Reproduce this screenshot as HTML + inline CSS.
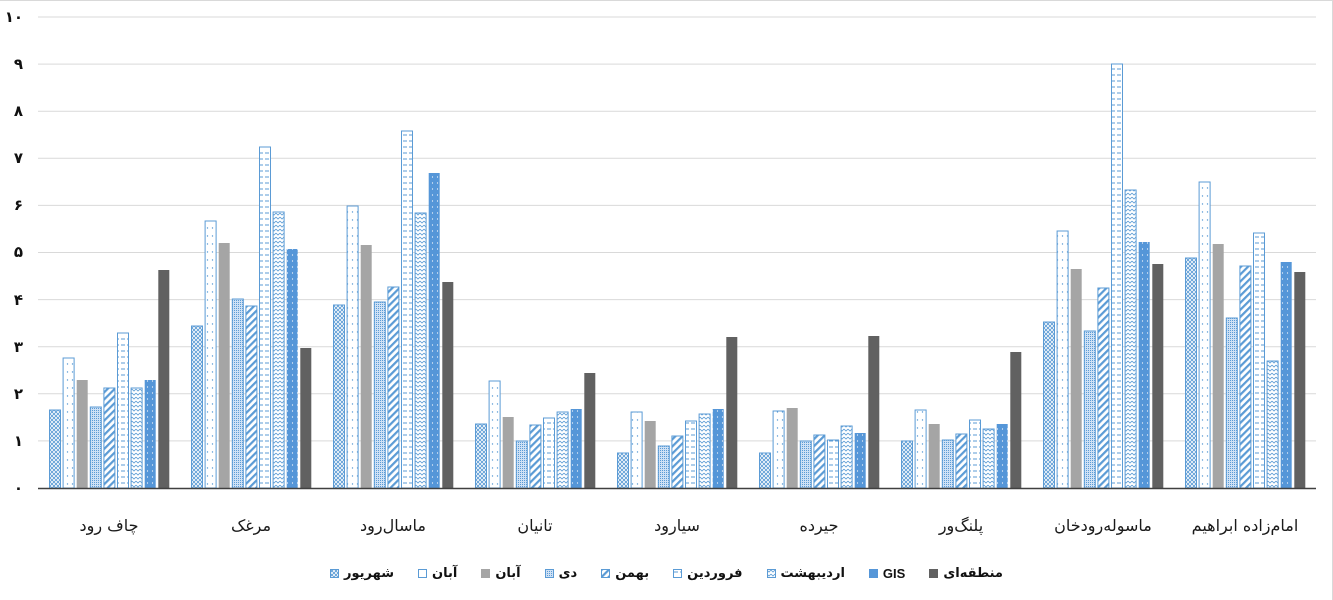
<!DOCTYPE html>
<html>
<head>
<meta charset="utf-8">
<style>
html,body{margin:0;padding:0;background:#fff;}
#wrap{position:relative;width:1333px;height:600px;overflow:hidden;background:#fff;}
svg{position:absolute;left:0;top:0;}
#legend{position:absolute;left:0;top:566px;width:1333px;display:flex;justify-content:center;align-items:center;gap:24px;direction:ltr;
font-family:"DejaVu Sans","Liberation Sans",sans-serif;font-weight:bold;font-size:13px;color:#111;}
.li{display:flex;align-items:center;white-space:nowrap;}
.ic{width:9px;height:9px;margin-right:5px;box-sizing:border-box;}
</style>
</head>
<body>
<div id="wrap">
<svg width="1333" height="600" viewBox="0 0 1333 600" xmlns="http://www.w3.org/2000/svg">
<defs>
<pattern id="p1" width="4" height="4" patternUnits="userSpaceOnUse"><rect width="4" height="4" fill="#fff"/><path d="M0,0L4,4M4,0L0,4" stroke="#5b9bd5" stroke-width="0.9"/></pattern>
<pattern id="p2" width="5" height="8" patternUnits="userSpaceOnUse"><rect width="5" height="8" fill="#fff"/><circle cx="2.5" cy="4" r="0.7" fill="#5b9bd5"/></pattern>
<pattern id="p4" width="2" height="2" patternUnits="userSpaceOnUse"><rect width="2" height="2" fill="#cfe1f5"/><rect width="1" height="1" fill="#5b9bd5"/></pattern>
<pattern id="p5" width="5" height="5" patternUnits="userSpaceOnUse" patternTransform="rotate(45)"><rect width="5" height="5" fill="#fff"/><rect width="2.2" height="5" fill="#5b9bd5"/></pattern>
<pattern id="p6" width="6" height="6" patternUnits="userSpaceOnUse"><rect width="6" height="6" fill="#fff"/><rect x="1" y="2.5" width="4" height="1" fill="#5b9bd5"/></pattern>
<pattern id="p7" width="4" height="4" patternUnits="userSpaceOnUse"><rect width="4" height="4" fill="#fff"/><polyline points="0,1 2,3 4,1" fill="none" stroke="#5b9bd5" stroke-width="0.8"/></pattern>
<pattern id="p8" width="5" height="6" patternUnits="userSpaceOnUse"><rect width="5" height="6" fill="#5596d8"/><circle cx="2.5" cy="3" r="0.6" fill="#fff"/></pattern>
</defs>
<!-- border -->
<line x1="0" y1="0.5" x2="1333" y2="0.5" stroke="#d9d9d9"/>
<line x1="1332.5" y1="0" x2="1332.5" y2="600" stroke="#d9d9d9"/>
<!-- gridlines -->
<g stroke="#d9d9d9" stroke-width="1">
<line x1="38" y1="17" x2="1316" y2="17"/>
<line x1="38" y1="64.1" x2="1316" y2="64.1"/>
<line x1="38" y1="111.2" x2="1316" y2="111.2"/>
<line x1="38" y1="158.3" x2="1316" y2="158.3"/>
<line x1="38" y1="205.4" x2="1316" y2="205.4"/>
<line x1="38" y1="252.5" x2="1316" y2="252.5"/>
<line x1="38" y1="299.6" x2="1316" y2="299.6"/>
<line x1="38" y1="346.7" x2="1316" y2="346.7"/>
<line x1="38" y1="393.8" x2="1316" y2="393.8"/>
<line x1="38" y1="440.9" x2="1316" y2="440.9"/>
</g>
<!-- y labels -->
<g font-family="DejaVu Sans, Liberation Sans, sans-serif" font-size="15" font-weight="bold" fill="#111" text-anchor="end">
<text x="23" y="22">۱۰</text>
<text x="23" y="69">۹</text>
<text x="23" y="116">۸</text>
<text x="23" y="163">۷</text>
<text x="23" y="210">۶</text>
<text x="23" y="257">۵</text>
<text x="23" y="305">۴</text>
<text x="23" y="352">۳</text>
<text x="23" y="399">۲</text>
<text x="23" y="446">۱</text>
<text x="23" y="493">۰</text>
</g>
<!-- series 1 شهریور -->
<g fill="url(#p1)" stroke="#5b9bd5" stroke-width="1">
<rect x="49.5" y="410" width="11" height="78"/>
<rect x="191.5" y="326" width="11" height="162"/>
<rect x="333.5" y="305" width="11" height="183"/>
<rect x="475.5" y="424" width="11" height="64"/>
<rect x="617.5" y="453" width="11" height="35"/>
<rect x="759.5" y="453" width="11" height="35"/>
<rect x="901.5" y="441" width="11" height="47"/>
<rect x="1043.5" y="322" width="11" height="166"/>
<rect x="1185.5" y="258" width="11" height="230"/>
</g>
<!-- series 2 آبان -->
<g fill="url(#p2)" stroke="#5b9bd5" stroke-width="1">
<rect x="63.1" y="358" width="11" height="130"/>
<rect x="205.1" y="221" width="11" height="267"/>
<rect x="347.1" y="206" width="11" height="282"/>
<rect x="489.1" y="381" width="11" height="107"/>
<rect x="631.1" y="412" width="11" height="76"/>
<rect x="773.1" y="411" width="11" height="77"/>
<rect x="915.1" y="410" width="11" height="78"/>
<rect x="1057.1" y="231" width="11" height="257"/>
<rect x="1199.1" y="182" width="11" height="306"/>
</g>
<!-- series 3 آبان gray -->
<g fill="#a5a5a5">
<rect x="76.7" y="380" width="11" height="108"/>
<rect x="218.7" y="243" width="11" height="245"/>
<rect x="360.7" y="245" width="11" height="243"/>
<rect x="502.7" y="417" width="11" height="71"/>
<rect x="644.7" y="421" width="11" height="67"/>
<rect x="786.7" y="408" width="11" height="80"/>
<rect x="928.7" y="424" width="11" height="64"/>
<rect x="1070.7" y="269" width="11" height="219"/>
<rect x="1212.7" y="244" width="11" height="244"/>
</g>
<!-- series 4 دی -->
<g fill="url(#p4)" stroke="#5b9bd5" stroke-width="1">
<rect x="90.3" y="407" width="11" height="81"/>
<rect x="232.3" y="299" width="11" height="189"/>
<rect x="374.3" y="302" width="11" height="186"/>
<rect x="516.3" y="441" width="11" height="47"/>
<rect x="658.3" y="446" width="11" height="42"/>
<rect x="800.3" y="441" width="11" height="47"/>
<rect x="942.3" y="440" width="11" height="48"/>
<rect x="1084.3" y="331" width="11" height="157"/>
<rect x="1226.3" y="318" width="11" height="170"/>
</g>
<!-- series 5 بهمن -->
<g fill="url(#p5)" stroke="#5b9bd5" stroke-width="1">
<rect x="103.9" y="388" width="11" height="100"/>
<rect x="245.9" y="306" width="11" height="182"/>
<rect x="387.9" y="287" width="11" height="201"/>
<rect x="529.9" y="425" width="11" height="63"/>
<rect x="671.9" y="436" width="11" height="52"/>
<rect x="813.9" y="435" width="11" height="53"/>
<rect x="955.9" y="434" width="11" height="54"/>
<rect x="1097.9" y="288" width="11" height="200"/>
<rect x="1239.9" y="266" width="11" height="222"/>
</g>
<!-- series 6 فروردین -->
<g fill="url(#p6)" stroke="#5b9bd5" stroke-width="1">
<rect x="117.5" y="333" width="11" height="155"/>
<rect x="259.5" y="147" width="11" height="341"/>
<rect x="401.5" y="131" width="11" height="357"/>
<rect x="543.5" y="418" width="11" height="70"/>
<rect x="685.5" y="421" width="11" height="67"/>
<rect x="827.5" y="440" width="11" height="48"/>
<rect x="969.5" y="420" width="11" height="68"/>
<rect x="1111.5" y="64" width="11" height="424"/>
<rect x="1253.5" y="233" width="11" height="255"/>
</g>
<!-- series 7 اردیبهشت -->
<g fill="url(#p7)" stroke="#5b9bd5" stroke-width="1">
<rect x="131.1" y="388" width="11" height="100"/>
<rect x="273.1" y="212" width="11" height="276"/>
<rect x="415.1" y="213" width="11" height="275"/>
<rect x="557.1" y="412" width="11" height="76"/>
<rect x="699.1" y="414" width="11" height="74"/>
<rect x="841.1" y="426" width="11" height="62"/>
<rect x="983.1" y="429" width="11" height="59"/>
<rect x="1125.1" y="190" width="11" height="298"/>
<rect x="1267.1" y="361" width="11" height="127"/>
</g>
<!-- series 8 GIS -->
<g fill="url(#p8)">
<rect x="144.7" y="380" width="11" height="108"/>
<rect x="286.7" y="249" width="11" height="239"/>
<rect x="428.7" y="173" width="11" height="315"/>
<rect x="570.7" y="409" width="11" height="79"/>
<rect x="712.7" y="409" width="11" height="79"/>
<rect x="854.7" y="433" width="11" height="55"/>
<rect x="996.7" y="424" width="11" height="64"/>
<rect x="1138.7" y="242" width="11" height="246"/>
<rect x="1280.7" y="262" width="11" height="226"/>
</g>
<!-- series 9 منطقه‌ای -->
<g fill="#616161">
<rect x="158.3" y="270" width="11" height="218"/>
<rect x="300.3" y="348" width="11" height="140"/>
<rect x="442.3" y="282" width="11" height="206"/>
<rect x="584.3" y="373" width="11" height="115"/>
<rect x="726.3" y="337" width="11" height="151"/>
<rect x="868.3" y="336" width="11" height="152"/>
<rect x="1010.3" y="352" width="11" height="136"/>
<rect x="1152.3" y="264" width="11" height="224"/>
<rect x="1294.3" y="272" width="11" height="216"/>
</g>
<!-- baseline -->
<line x1="38" y1="488.5" x2="1316" y2="488.5" stroke="#404040" stroke-width="1.5"/>
<!-- category labels -->
<g font-family="DejaVu Sans, Liberation Sans, sans-serif" font-size="16" fill="#1a1a1a" text-anchor="middle">
<text x="109" y="531">چاف رود</text>
<text x="251" y="531">مرغک</text>
<text x="393" y="531">ماسال‌رود</text>
<text x="535" y="531">تانیان</text>
<text x="677" y="531">سیارود</text>
<text x="819" y="531">جیرده</text>
<text x="961" y="531">پلنگ‌ور</text>
<text x="1103" y="531">ماسوله‌رودخان</text>
<text x="1245" y="531">امام‌زاده ابراهیم</text>
</g>
</svg>
<div id="legend">
  <div class="li"><svg class="ic" style="position:static" width="9" height="9"><rect x="0.5" y="0.5" width="8" height="8" fill="url(#p1)" stroke="#5b9bd5"/></svg><span>شهریور</span></div>
  <div class="li"><svg class="ic" style="position:static" width="9" height="9"><rect x="0.5" y="0.5" width="8" height="8" fill="#fff" stroke="#5b9bd5"/></svg><span>آبان</span></div>
  <div class="li"><svg class="ic" style="position:static" width="9" height="9"><rect x="0" y="0" width="9" height="9" fill="#a5a5a5"/></svg><span>آبان</span></div>
  <div class="li"><svg class="ic" style="position:static" width="9" height="9"><rect x="0.5" y="0.5" width="8" height="8" fill="url(#p4)" stroke="#5b9bd5"/></svg><span>دی</span></div>
  <div class="li"><svg class="ic" style="position:static" width="9" height="9"><rect x="0.5" y="0.5" width="8" height="8" fill="url(#p5)" stroke="#5b9bd5"/></svg><span>بهمن</span></div>
  <div class="li"><svg class="ic" style="position:static" width="9" height="9"><rect x="0.5" y="0.5" width="8" height="8" fill="url(#p6)" stroke="#5b9bd5"/></svg><span>فروردین</span></div>
  <div class="li"><svg class="ic" style="position:static" width="9" height="9"><rect x="0.5" y="0.5" width="8" height="8" fill="url(#p7)" stroke="#5b9bd5"/></svg><span>اردیبهشت</span></div>
  <div class="li"><svg class="ic" style="position:static" width="9" height="9"><rect x="0" y="0" width="9" height="9" fill="#5596d8"/></svg><span style="font-family:'Liberation Sans',sans-serif;">GIS</span></div>
  <div class="li"><svg class="ic" style="position:static" width="9" height="9"><rect x="0" y="0" width="9" height="9" fill="#616161"/></svg><span>منطقه‌ای</span></div>
</div>
</div>
</body>
</html>
